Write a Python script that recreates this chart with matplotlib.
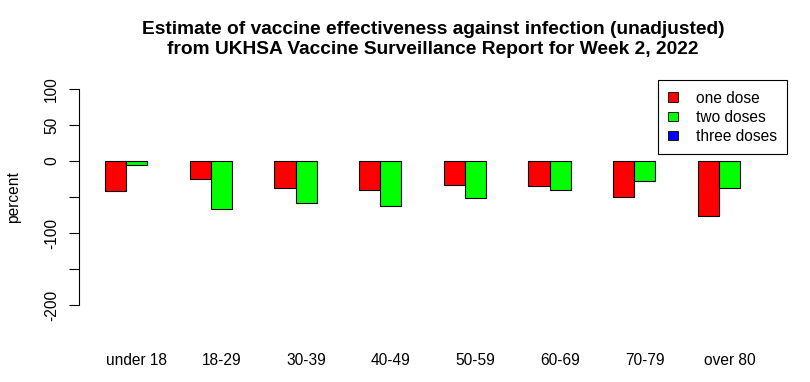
import matplotlib
matplotlib.use("Agg")
import matplotlib.pyplot as plt
from matplotlib.patches import Patch
import numpy as np

plt.rcParams['font.family'] = ['Liberation Sans', 'DejaVu Sans']

# data (percent)
age_groups = ["under 18", "18-29", "30-39", "40-49", "50-59", "60-69", "70-79", "over 80"]
one_dose = [-41.5, -24.5, -38, -40, -34, -35, -50.5, -76]
two_doses = [-5, -67, -59, -63, -51, -40, -28, -37]
three_doses = [np.nan] * 8   # not shown in the report figure
series_names = ["one dose", "two doses", "three doses"]
series_colors = ["#ff0000", "#00ff00", "#0000ff"]

title = ("Estimate of vaccine effectiveness against infection (unadjusted)\n"
         "from UKHSA Vaccine Surveillance Report for Week 2, 2022")

FS = 11.2

fig = plt.figure(figsize=(8.1, 3.82), dpi=100)
ax = fig.add_axes([0.0972, 0.179, 0.875, 0.6105])

# R-style beside barplot: 3 bars per group, one empty bar of space between groups
series = [one_dose, two_doses, three_doses]
n = len(age_groups)
group_left = 1 + 4 * np.arange(n)
for k, (vals, col) in enumerate(zip(series, series_colors)):
    ax.bar(group_left + k, vals, width=1, align='edge', color=col,
           edgecolor='black', linewidth=0.8)

ax.set_xlim(-0.24, 33.24)
ax.set_ylim(-212, 112)

# y axis like base R: ticks every 50, only non-overlapping labels
yt = np.arange(-200, 101, 50)
ax.set_yticks(yt)
ax.set_yticklabels([str(v) if v in (-200, -100, 0, 50, 100) else "" for v in yt],
                   rotation=90, va='center', fontsize=FS)
ax.tick_params(axis='y', length=7, width=0.8, pad=7)
ax.spines['left'].set_bounds(-200, 100)
ax.spines['left'].set_linewidth(0.8)
for s in ('top', 'right', 'bottom'):
    ax.spines[s].set_visible(False)

# group names under the middle of each group
ax.set_xticks(group_left + 1.5)
ax.set_xticklabels(age_groups, fontsize=FS)
ax.tick_params(axis='x', length=0, pad=28)

ax.set_ylabel("percent", fontsize=FS)
ax.yaxis.set_label_coords(-0.082, 0.5)
ax.set_title(title, fontsize=13.8, fontweight='bold', pad=19, linespacing=1.2)

handles = [Patch(facecolor=c, edgecolor='black', linewidth=0.6) for c in series_colors]
leg = ax.legend(handles, series_names, loc='upper right', bbox_to_anchor=(1.0, 1.0),
                borderaxespad=0, fontsize=FS, fancybox=False, framealpha=1,
                edgecolor='black', handlelength=0.6, handleheight=0.55,
                handletextpad=1.2, labelspacing=0.27, borderpad=0.65)
leg.get_frame().set_linewidth(0.8)

fig.savefig("out.png", dpi=100)
